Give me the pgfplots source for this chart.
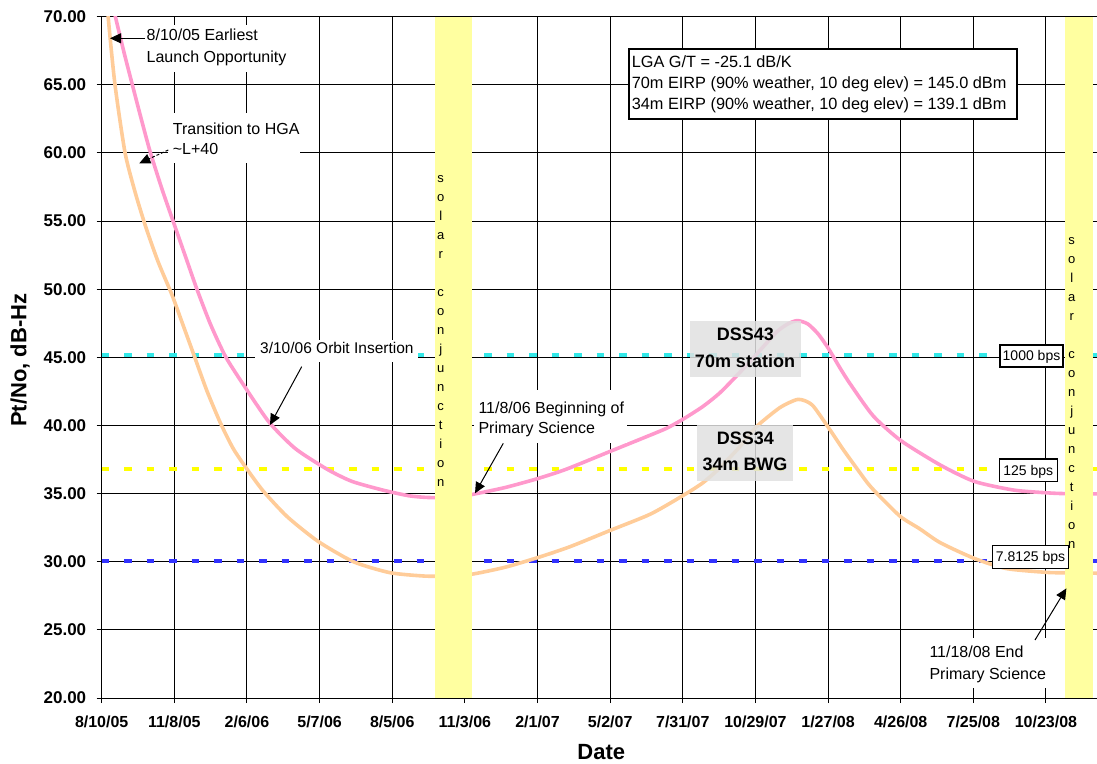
\documentclass[border=0pt]{standalone}
\usepackage{fontspec}
\setmainfont{Liberation Sans}
\usepackage{pgfplots}
\pgfplotsset{compat=1.18}
\usetikzlibrary{arrows.meta}
\definecolor{pinkc}{RGB}{255,153,204}
\definecolor{peachc}{RGB}{255,204,153}
\definecolor{cyanc}{RGB}{51,232,232}
\definecolor{bluec}{RGB}{51,51,255}
\definecolor{yellowc}{RGB}{255,255,0}
\definecolor{bandc}{RGB}{255,255,160}
\newcommand\fs[1]{\fontsize{#1}{#1}\selectfont}

\pgfplotstableread{
day v
0 74.8
8 72.5
17 70.0
28 67.3
38 65.0
49 62.5
60 60.1
75 57.3
92 54.4
105 52.2
118 50.0
135 47.4
154 45.0
180 42.6
208 40.2
240 38.3
279 36.8
310 35.9
349 35.25
380 34.85
400 34.73
420 34.7
440 34.78
460 34.95
500 35.45
540 36.1
576 36.8
630 38.1
680 39.3
700 39.8
720 40.45
745 41.4
766 42.4
790 43.85
811 45.2
836 46.85
850 47.45
862 47.7
875 47.45
888 46.7
901 45.6
915 44.2
928 43.0
956 40.7
990 38.9
1039 37.1
1081 35.9
1130 35.26
1171 35.06
1194 35.0
1245 34.98
}\pinkdata

\pgfplotstableread{
day v
0 76.0
8 70.0
16.5 65.0
29 60.0
42 57.0
55 54.5
70 52.0
87 49.6
100 47.5
113.5 45.3
130 42.6
147 40.2
163 38.3
180 36.8
200 35.2
230 33.3
268 31.5
312 30.0
357 29.2
400 28.95
430 28.95
460 29.1
500 29.6
540 30.3
580 31.1
630 32.3
680 33.5
720 34.85
745 35.8
766 36.9
790 38.4
811 39.9
840 41.3
861 41.9
872 41.8
882 41.4
901 39.8
918 38.3
935 36.9
950 35.7
964 34.8
990 33.3
1014 32.4
1039 31.4
1081 30.25
1121 29.5
1171 29.22
1194 29.19
1245 29.15
}\peachdata

\begin{document}
\begin{tikzpicture}
\begin{axis}[
  at={(0pt,0pt)}, anchor=south west,
  scale only axis, width=1004.8pt, height=681.25pt,
  xmin=0, xmax=1245, ymin=20, ymax=70,
  axis x line*=bottom, axis y line*=left,
  axis line style={-, line width=1pt, black},
  xtick={0,90,...,1170},
  xticklabels={8/10/05,11/8/05,2/6/06,5/7/06,8/5/06,11/3/06,2/1/07,5/2/07,7/31/07,10/29/07,1/27/08,4/26/08,7/25/08,10/23/08},
  ytick={20,25,...,70},
  /pgf/number format/assume math mode=true,
  yticklabel={\pgfmathprintnumber[fixed,fixed zerofill,precision=2]{\tick}},
  xticklabel style={font=\fs{16}\bfseries, yshift=-9pt},
  yticklabel style={font=\fs{17}\bfseries, xshift=-7pt},
  tick align=outside, major tick length=5pt,
  every tick/.style={black, line width=1pt},
  grid=major, major grid style={black, line width=1pt},
  xlabel={Date}, ylabel={Pt/No, dB-Hz},
  every axis x label/.style={at={(axis description cs:0.4972,0)}, anchor=center, yshift=-54pt, font=\fs{22}\bfseries},
  every axis y label/.style={at={(axis description cs:0,0.496)}, anchor=center, xshift=-81.7pt, rotate=90, font=\fs{22}\bfseries},
  clip=true,
]
\addplot[cyanc, line width=4pt, dash pattern=on 7.5pt off 15pt] coordinates {(0,45.15) (1245,45.15)};
\addplot[yellowc, line width=4pt, dash pattern=on 7.5pt off 15pt] coordinates {(0,36.78) (1245,36.78)};
\addplot[bluec, line width=4pt, dash pattern=on 7.5pt off 15pt] coordinates {(0,30.03) (1245,30.03)};
\addplot[pinkc, line width=3.6pt, smooth, tension=0.4] table[x=day,y=v] {\pinkdata};
\addplot[peachc, line width=3.6pt, smooth, tension=0.4] table[x=day,y=v] {\peachdata};
\addplot[fill=bandc, draw=none] coordinates {(413,20) (413,70) (459.4,70) (459.4,20)} -- cycle;
\addplot[fill=bandc, draw=none] coordinates {(1193.5,20) (1193.5,70) (1228.6,70) (1228.6,20)} -- cycle;
\end{axis}

\begin{scope}[x=1pt,y=-1pt,shift={(-101.7pt,698pt)}]
% solar conjunction text
\foreach \ch [count=\i from 0] in {s,o,l,a,r,{},c,o,n,j,u,n,c,t,i,o,n} {
  \node[anchor=base, inner sep=0, font=\fs{13}] at (440.7, {182.4+19*\i}) {\ch};
  \node[anchor=base, inner sep=0, font=\fs{13}] at (1071.7, {244.1+19*\i}) {\ch};
}
% DSS boxes
\fill[black!12, fill opacity=0.85] (690,321) rectangle (800.7,376.7);
\node[anchor=base, inner sep=0, font=\fs{18}\bfseries] at (745.3,340.7) {DSS43};
\node[anchor=base, inner sep=0, font=\fs{18}\bfseries] at (745,367.3) {70m station};
\fill[black!12, fill opacity=0.85] (697.3,425) rectangle (793.3,480.7);
\node[anchor=base, inner sep=0, font=\fs{18}\bfseries] at (745.3,445) {DSS34};
\node[anchor=base, inner sep=0, font=\fs{18}\bfseries] at (745,470.7) {34m BWG};
% bps boxes
\filldraw[fill=white, draw=black, line width=1.2pt] (1000,345) rectangle (1063,367);
\node[anchor=base, inner sep=0, font=\fs{14}] at (1031.5,361) {1000 bps};
\filldraw[fill=white, draw=black, line width=1.2pt] (999.3,459) rectangle (1057.3,481.7);
\node[anchor=base, inner sep=0, font=\fs{14}] at (1028.3,475.3) {125 bps};
\filldraw[fill=white, draw=black, line width=1.2pt] (992.3,545.7) rectangle (1068.7,568.3);
\node[anchor=base, inner sep=0, font=\fs{14}] at (1030.5,562) {7.8125 bps};
% info box
\filldraw[fill=white, draw=black, line width=2pt] (628.5,49) rectangle (1017,119);
\node[anchor=base west, inner sep=0, font=\fs{16.3}] at (631.6,67.5) {LGA G/T = -25.1 dB/K};
\node[anchor=base west, inner sep=0, font=\fs{16.3}] at (631.6,89) {70m EIRP (90\% weather, 10 deg elev) = 145.0 dBm};
\node[anchor=base west, inner sep=0, font=\fs{16.3}] at (631.6,109.5) {34m EIRP (90\% weather, 10 deg elev) = 139.1 dBm};
% annotation 1
\fill[white] (142,25) rectangle (300,71.7);
\node[anchor=base west, inner sep=0, font=\fs{16}] at (146.5,40.7) {8/10/05 Earliest};
\node[anchor=base west, inner sep=0, font=\fs{16}] at (146.5,62.7) {Launch Opportunity};
\draw[line width=1pt, -{Triangle[length=11pt,width=10pt]}] (145,38.3) -- (110,38.3);
% annotation 2
\fill[white] (168,113.3) rectangle (300,163.3);
\node[anchor=base west, inner sep=0, font=\fs{16}] at (172.7,134.3) {Transition to HGA};
\node[anchor=base west, inner sep=0, font=\fs{16}] at (172.7,155) {\char`~L+40};
\draw[line width=1pt, dash pattern=on 3pt off 2pt, -{Triangle[length=11pt,width=10pt]}] (168.3,150) -- (139.3,163.3);
% annotation 3
\fill[white] (255,340) rectangle (418.3,361.7);
\node[anchor=base west, inner sep=0, font=\fs{15.5}] at (260,353.3) {3/10/06 Orbit Insertion};
\draw[line width=1pt, -{Triangle[length=11pt,width=10pt]}] (301.7,366.7) -- (270,425);
% annotation 4
\fill[white] (473.5,390) rectangle (627,443.3);
\node[anchor=base west, inner sep=0, font=\fs{16}] at (478.3,413.3) {11/8/06 Beginning of};
\node[anchor=base west, inner sep=0, font=\fs{16}] at (478.3,433.3) {Primary Science};
\draw[line width=1pt, -{Triangle[length=11pt,width=10pt]}] (503.3,443.3) -- (475,493.3);
% annotation 5
\fill[white] (925,638) rectangle (1052,688);
\node[anchor=base west, inner sep=0, font=\fs{16}] at (929.3,657.7) {11/18/08 End};
\node[anchor=base west, inner sep=0, font=\fs{16}] at (929.3,679) {Primary Science};
\draw[line width=1pt, -{Triangle[length=11pt,width=10pt]}] (1035,640) -- (1066.4,588.3);
\end{scope}
\pgfresetboundingbox
\useasboundingbox (-101.7pt,-65pt) rectangle (995.3pt,698pt);
\end{tikzpicture}
\end{document}
